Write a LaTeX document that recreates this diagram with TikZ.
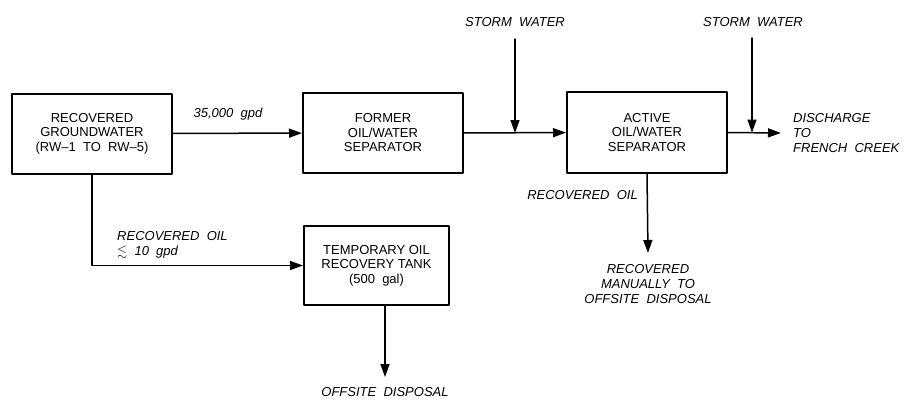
\documentclass[tikz,border=0pt]{standalone}
\usepackage{amssymb}
\usepackage{fontspec}
\setmainfont{Liberation Sans}
\usetikzlibrary{arrows.meta,positioning}

\begin{document}
\begin{tikzpicture}[x=1pt,y=-1pt,line cap=round,line join=round,
  unit/.style={draw,line width=2pt,minimum width=160pt,minimum height=80pt,
    align=center,inner sep=0pt,font=\fontsize{13}{14.5}\selectfont},
  flow/.style={line width=1.5pt,-{Triangle[length=13pt,width=9pt]}},
  note/.style={inner sep=0pt,font=\fontsize{13}{15}\selectfont\itshape}]
  \useasboundingbox (0,0) rectangle (906,407);
  % process units
  \node[unit] (gw) at (92,133.5) {RECOVERED\\GROUNDWATER\\(RW--1\ \ TO\ \ RW--5)};
  \node[unit] (former) at (383,133) {FORMER\\OIL/WATER\\SEPARATOR};
  \node[unit,minimum height=81pt] (active) at (647,132.5) {ACTIVE\\OIL/WATER\\SEPARATOR};
  \node[unit,minimum width=145pt,minimum height=79pt] (tank) at (376.5,265.5) {TEMPORARY OIL\\RECOVERY TANK\\(500\ \ gal)};
  % labels
  \node[note] (rate) at (228,114) {35,000\ \ gpd};
  \node[note] (storma) at (515,22) {STORM\ \ WATER};
  \node[note] (stormb) at (753,22) {STORM\ \ WATER};
  \node[note,anchor=west,align=left] (creek) at (793,133) {DISCHARGE\\TO\\FRENCH\ \ CREEK};
  \node[note,anchor=east] (oilb) at (638,195) {RECOVERED\ \ OIL};
  \node[note,align=center] (manual) at (648,284) {RECOVERED\\MANUALLY\ \ TO\\OFFSITE\ \ DISPOSAL};
  \node[note,anchor=west,align=left] (oila) at (117,244.5) {RECOVERED\ \ OIL\\$\lesssim$\ \ 10\ \ gpd};
  \node[note] (offsite) at (385,392) {OFFSITE\ \ DISPOSAL};
  % free ends
  \coordinate (sa) at (515,39);
  \coordinate (sb) at (752,38);
  \coordinate (out) at (781,133);
  \coordinate (manend) at (648,253);
  \coordinate (tankend) at (385,377);
  % flows
  \draw[flow] (gw) -- (former);
  \draw[flow] (former) -- (active);
  \draw[flow] (sa) -- (sa |- former.east);
  \draw[flow] (sb) -- (sb |- active.east);
  \draw[flow] (active.east) -- (out);
  \draw[flow] (active.south) -- (manend);
  \draw[flow] (gw.south) |- (tank.west);
  \draw[flow] ([xshift=8.5pt]tank.south) -- (tankend);
\end{tikzpicture}
\end{document}
